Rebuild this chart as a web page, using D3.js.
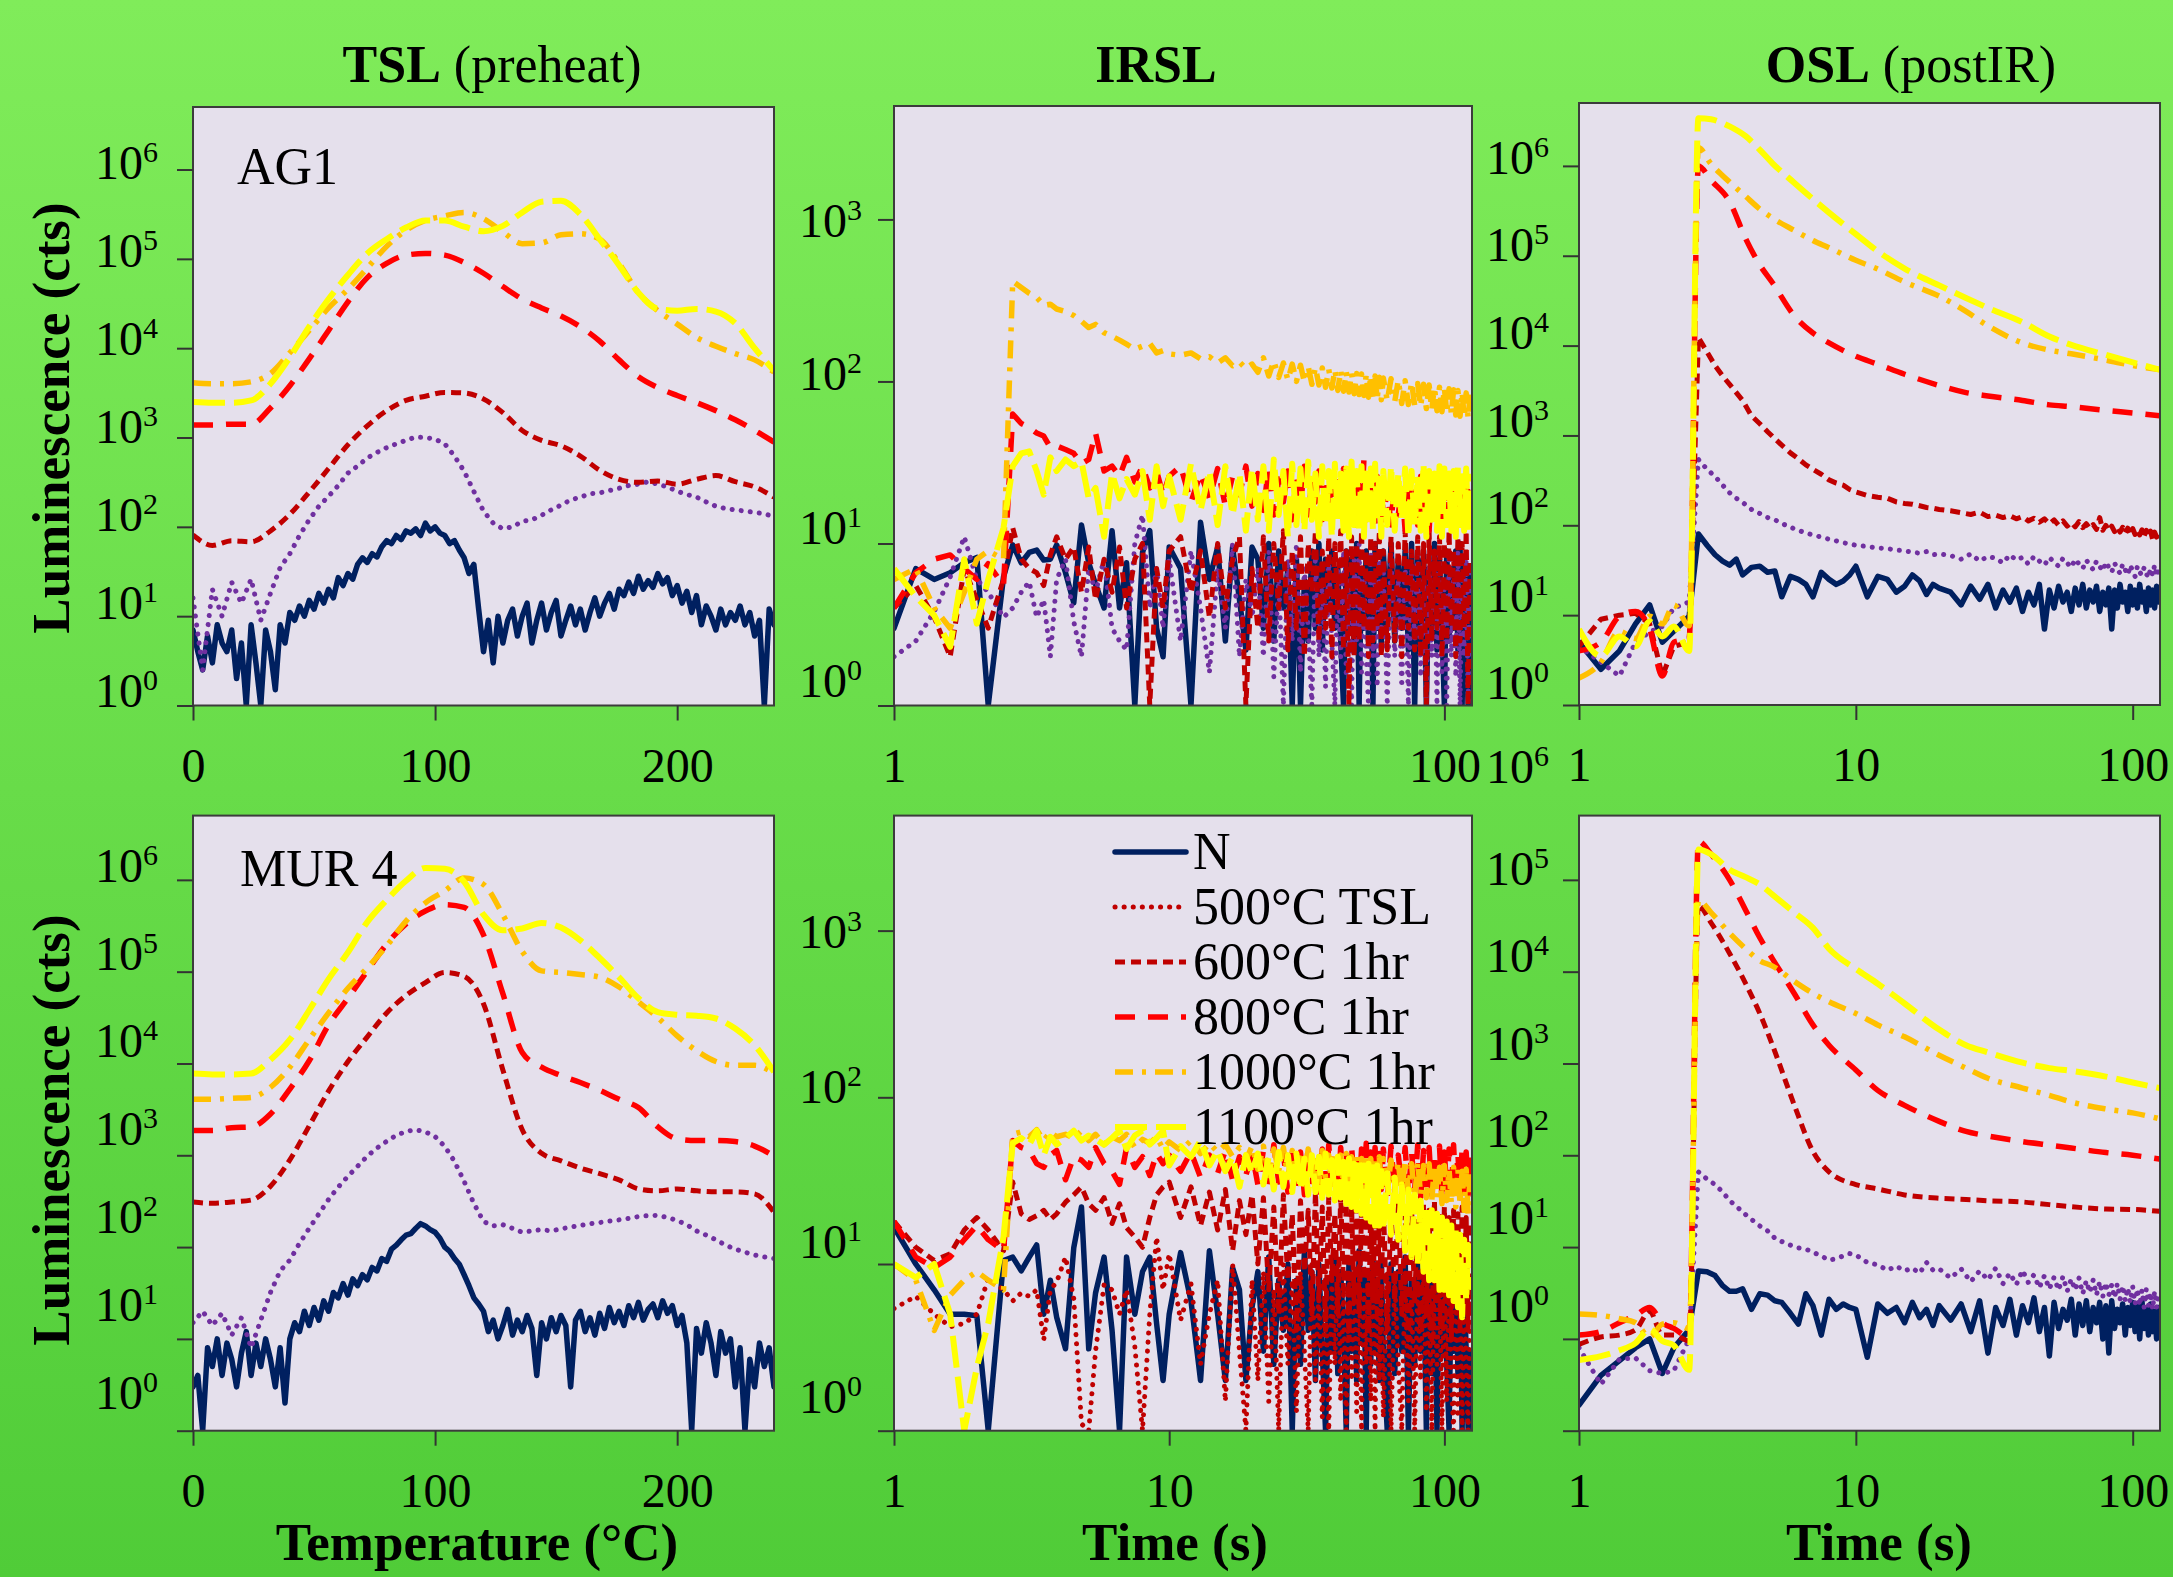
<!DOCTYPE html>
<html><head><meta charset="utf-8">
<script src="https://cdn.jsdelivr.net/npm/d3@7"></script>
<style>
html,body{margin:0;padding:0;background:#6ade4c;}
svg{display:block;}
text{font-family:"Liberation Serif","Times New Roman",serif;fill:#000;}
</style></head><body>
<svg id="fig" width="2173" height="1577"></svg>
<script>
// ---------------- sampling grids ----------------
const tslTempCoarse = [0,8,16,24,32,40,48,56,64,72,80,88,96,104,112,120,128,136,144,152,160,168,176,184,192,200,208,216,224,232,240];
const tslTempMid = [0,4,8,12,16,20,24,28,32,36,40,44,48,52,56,60,64,68,72,76,80,84,88,92,96,100,104,108,112,116,120,124,128,132,136,140,144,148,152,156,160,164,168,172,176,180,184,188,192,196,200,204,208,212,216,220,224,228,232,236,240];
const tslTempFine = [0,2,4,6,8,10,12,14,16,18,20,22,24,26,28,30,32,34,36,38,40,42,44,46,48,50,52,54,56,58,60,62,64,66,68,70,72,74,76,78,80,82,84,86,88,90,92,94,96,98,100,102,104,106,108,110,112,114,116,118,120,122,124,126,128,130,132,134,136,138,140,142,144,146,148,150,152,154,156,158,160,162,164,166,168,170,172,174,176,178,180,182,184,186,188,190,192,194,196,198,200,202,204,206,208,210,212,214,216,218,220,222,224,226,228,230,232,234,236,238,240];
const irslTime = [1,1.2,1.4,1.6,1.8,2,2.2,2.5,2.7,2.9,3.1,3.3,3.5,3.7,3.9,4.2,4.5,4.8,5.1,5.4,5.8,6.2,6.6,7,7.5,8,8.5,9,9.5,10,11,12,13,14,15,16,17,18,19,20,
  21,22,23,24,25,26,27,28,29,30,31,32,33,34,35,36,37,38,39,40,41,42,43,44,45,46,47,48,49,50,51,52,53,54,55,56,57,58,59,60,
  62,64,66,68,70,72,74,76,78,80,82,84,86,88,90,92,94,96,98,100,102,104,106,108,110,112,114,116,118,120,122,124];
const oslTimeFine = [1,1.2,1.4,1.6,1.8,2,2.2,2.5,2.7,2.9,3.1,3.3,3.5,3.7,3.9,4.2,4.5,4.8,5.1,5.4,5.8,6.2,6.6,7,7.5,8,8.5,9,9.5,10,11,12,13,14,15,16,17,18,19,20,22,24,26,28,30,32,34,36,38,40,42,44,46,48,50,52,54,56,58,60,62,64,66,68,70,72,74,76,78,80,82,84,86,88,90,92,94,96,98,100,102,104,106,108,110,112,114,116,118,120,122,124];
const oslTimeCoarse = [1,1.2,1.4,1.6,1.8,2,2.2,2.5,2.7,3,3.5,4,4.5,5,6,7,8,10,12,15,20,25,30,40,50,60,80,100,125];

// ---------------- TSL, AG1 ----------------
const ag1TslN = [7,4,2.5,6,3,8,5,4,7,2, 5,0,8,3,0,7,4,1.5,8,5, 11,9,13,10,15,12,18,14,20,16, 27,22,30,26,38,45,40,50,46,60, 70,65,80,72,90,85,95,80,110,90, 100,85,80,65,70,55,45,30,38,12, 4,9,3,10,5,9,12,6,10,14, 5,9,14,7,11,15,6,9,13,8, 12,7,11,16,10,14,18,12,20,17, 24,18,28,20,25,21,30,23,27,17, 22,14,19,11,17,8,13,10,7,12, 8,11,9,13,8,11,6,9,0,12, 8];
const ag1Tsl500 = [16,2.5,20,10,24,14,26,9,18,35, 50,80,120,170,220,290,400,480,590,680, 770,850,930,1010,1000,960,850,620,420,250, 150,110,95,100,115,120,135,155,175,200, 215,235,240,255,270,290,300,320,300,280, 250,230,215,190,170,160,155,150,145,140, 130];
const ag1Tsl600 = [81,62,70,68,90,138,245,450,830,1350,2000,2600,2900,3200,3150,2700,1900,1200,930,810,620,430,340,315,325,300,340,375,320,280,215];
const ag1Tsl800 = [1380,1380,1410,1410,2140,3800,7600,15800,33100,61700,89000,110000,115000,110000,91000,69000,49000,35500,28200,22900,17400,12000,7400,4800,3630,2950,2450,2000,1580,1200,890];
const ag1Tsl1000 = [4100,4000,4000,4200,5200,8900,15800,28200,45700,79000,138000,209000,269000,302000,331000,282000,200000,148000,151000,186000,191000,166000,89000,41700,26300,18600,13200,10500,8700,7400,5400];
const ag1Tsl1100 = [2500,2450,2450,2600,4000,7900,17400,35500,66000,115000,166000,224000,269000,269000,229000,204000,234000,331000,437000,447000,316000,166000,85000,41700,27500,26300,27500,25700,19000,10000,5600];

// ---------------- TSL, MUR 4 ----------------
const mur4TslN = [3,4,0,8,5,10,4,9,6,3, 7,12,4,9,5,10,6,3,8,2, 10,15,12,20,14,22,16,26,20,32, 28,40,30,45,38,50,44,60,55,75, 70,95,105,120,135,140,160,180,170,155, 145,125,100,90,75,65,50,38,28,24, 20,12,16,10,14,21,11,16,12,18, 13,4,15,10,17,12,18,14,3,16, 20,12,17,11,19,13,22,15,20,14, 23,17,25,16,21,24,17,26,19,23, 14,18,9,0,13,7,15,9,4,12, 7,10,3,8,0,6,3,9,5,8, 3];
const mur4Tsl500 = [15,20,14,19,11,17,8,16,32,55, 72,110,160,230,330,450,590,760,980,1200, 1420,1650,1820,1900,1800,1600,1250,860,520,300, 190,170,175,160,145,150,155,150,158,165, 172,180,185,192,198,205,215,220,222,210, 195,175,150,135,120,105,95,88,82,78, 75];
const mur4Tsl600 = [310,300,310,325,460,890,2090,5000,10500,19500,35500,55000,76000,98000,89000,44700,8500,1900,1050,870,725,630,540,430,410,430,410,400,400,380,240];
const mur4Tsl800 = [1860,1860,2000,2040,2820,5250,10700,26300,51300,102000,200000,331000,457000,537000,501000,251000,57500,13200,9100,7400,6200,5100,4070,3310,2040,1510,1450,1450,1410,1260,980];
const mur4Tsl1000 = [4070,4070,4170,4270,5500,9100,18200,35500,66000,110000,191000,355000,562000,759000,1050000,891000,417000,166000,102000,98000,93000,87000,68000,46800,31600,20000,13800,10500,9550,9550,7760];
const mur4Tsl1100 = [7760,7600,7600,7760,11000,18200,38000,83000,162000,347000,603000,977000,1350000,1320000,955000,417000,282000,295000,339000,302000,219000,141000,87000,51300,36300,33900,33100,30900,24000,15800,8100];

// ---------------- IRSL, AG1 ----------------
const ag1IrslN = [3,7,6,6.6,7.6,8.2,0,6.2,
  9.8,7.6,8.8,9.1,7.9,8,9.8,6.6,4.3,13,7.6,5.6,4,12,4,7.6,0,8.8,12,3,2,9.5,
  7,0,13.5,6,9.5,2.5,9.5,4.5,2.2,9.5,
  8,3,10,2.5,9,4,7,0,8,0, 6,2.5,9,3,10,2.2,8,4,9,3, 7,2.5,0,9,3,8,2.2,10,0,7, 3,9,2.5,8,0,10,3,7,2.2,9,
  3,10,2.5,8,3,9,2.2,10,0,8, 2.5,9,0,7,3,10,2.2,8,3,0, 9,2.5,7,3,9,2.2,10,0,8,3, 0,7];
const ag1Irsl500 = [2,2.5,3.8,6.2,11,6,5,3.5,
  4,5,5.8,3.5,4.5,2,6,8,3.3,2,7,5,8,3,2.5,2.2,10,15,4,7,3,8,
  2.5,9,4,1.6,7,3,10,2,6,3.5,
  7,2,9,1.5,6,0,8,2.5,10,1.6, 7,3,0,9,2,6,1.3,8,2.5,0, 7,2,9,1.5,6,0,8,2.5,10,1.6, 7,2,0,9,2,6,1.3,8,2.5,7,
  0,9,2,6,1.3,8,0,7,2.5,9, 1.5,6,0,8,2,7,0,9,1.6,6, 0,8,2,7,1.5,9,0,6,2,8, 0,7];
const ag1Irsl600 = [4,5.5,3.5,2,7,4.5,3,6,
  12.5,8,7,6.6,5.5,8.5,11,8,9.5,5,9.5,4.5,8,5,9.5,4,8,10,0,7,4,9,
  11,5,9,3.5,10,4,8,11,0,7,
  3,11,2.5,10,4,12,2.2,9,3,11, 2,10,5,12,2.5,9,3,11,2,10, 4,12,2.2,9,0,11,2,10,2.5,12, 3,9,2,11,2.5,10,3,12,2,9,
  2.2,11,2.5,10,2,12,3,9,2.2,11, 2,10,0,12,2.5,9,3,11,2,10, 2.5,12,3,9,2,11,2.5,10,3,12, 0,8];
const ag1Irsl800 = [4,6.6,8,8.5,7,6,7.5,5.5,
  63,55,52,48,46,39,40,38,36,31,33,48,28,30,26,34,24,30,22,28,20,26,
  30,18,27,19,29,17,26,20,30,17,
  27,16,30,15,25,18,28,14,26,17, 30,15,24,18,28,14,25,16,27,15, 24,17,29,14,26,16,24,13,27,15, 33,14,25,16,23,13,26,15,24,14,
  22,13,25,15,23,12,24,14,22,13, 26,14,23,12,25,15,22,13,24,12, 23,14,21,13,24,12,22,14,23,13, 21,14];
const ag1Irsl1000 = [6,7,4,3,5,8,9,8,
  415,380,350,330,295,300,280,270,255,235,215,225,200,190,180,170,158,165,172,150,155,148,
  145,150,138,142,130,140,125,132,120,128,
  114,140,108,134,106,130,102,128,100,126, 99,124,96,122,95,121,92,119,91,118, 88,117,87,115,86,113,84,112,83,111, 82,110,80,109,79,108,78,106,77,105,
  76,104,75,102,73,101,72,99,71,97, 70,96,68,95,67,93,66,92,65,91, 64,90,63,89,62,88,61,86,60,85, 59,83];
const ag1Irsl1100 = [7,4.7,3.6,2.3,8,3.2,6,12.5,
  30,36,37,28,20,34,28,33,30,32,19,22,11,27,19,25,20,28,14,30,17,26,
  14,31,16,28,13,30,15,27,12,29,
  14,30,12,33,15,28,11,31,13,29, 12,32,14,27,11,30,13,28,11,31, 14,27,12,29,11,32,13,28,12,30, 11,27,13,29,12,31,14,27,11,28,
  13,30,12,27,14,29,11,28,13,26, 12,31,11,28,14,27,12,30,11,29, 13,27,12,28,11,30,13,26,12,29, 12,27];

// ---------------- IRSL, MUR 4 ----------------
const mur4IrslN = [16.6,10,7,5,5,4.9,0,10.5,
  11,9.1,11,13,5,8,4.8,3.1,12.5,22,3.1,6.7,11,4,0,11,5,9,11,4.4,2,5,
  11.7,6,2,12,5,2,9.5,7,2,5.5,
  9,3,11,2.5,8,4,10,0,8,2.5, 12,4,9,2,10,3,0,8,3,11, 2.2,9,4,0,10,3,8,2,12,3.5, 9,0,9,2.5,11,3,8,2,10,3,
  0,10,2.2,9,3,11,0,8,2.5,10, 3,9,0,11,2.2,8,0,9,3,10, 2.5,0,8,3,11,2.2,9,0,8,3, 0,3];
const mur4Irsl500 = [5.4,6.4,5,4.2,4.4,5,8.2,7,
  6,6.7,6.4,7,3.5,7,7.8,11,6.2,1.1,0,3,7.5,7,5,7,3.2,0,5,14.5,7,11.5,
  4.6,7.6,2.5,5,8,1.5,10,3,0,8,
  2,9,1.5,7,0,10,2.5,8,1.3,9, 3,0,10,2,7,1.2,9,0,8,2.5, 10,1.5,7,0,9,2,8,1.3,10,0, 7,2.5,9,1.5,8,0,10,2,7,1.2,
  9,0,8,2.5,0,9,1.5,7,0,8, 2,10,1.3,7,0,9,2.5,8,0,10, 1.5,7,2,0,9,1.2,8,0,7,2.5, 0,6];
const mur4Irsl600 = [18,12.6,10.5,11.5,16,19,16,12,
  31,20,18.5,19.5,21,18.5,20,23.5,26,29,23,21,25,17.5,23,16.5,14.5,12.6,19,26,29,31,
  19,29,17,27,16,28,12,24,15,26,
  10,25,7,22,5,26,8,20,4,24, 9,21,5,27,6,22,4,25,8,20, 5,26,7,23,3.5,22,6,27,5,21, 8,24,4,22,6,25,5,20,7,23,
  4,21,6,24,5,20,3.5,22,6,19, 4,23,5,21,3.5,24,6,20,4,22, 5,19,3.5,21,6,20,4,22,5,19, 4,18];
const mur4Irsl800 = [18,11,9.5,11,14,17,14,12,
  55,50,48,40,38,45,48,32,44,42,38,50,40,36,30,50,38,44,34,46,40,45,
  36,47,33,45,35,48,32,44,34,46,
  30,48,28,52,31,46,27,50,29,47, 26,51,30,45,27,49,25,52,29,46, 26,50,28,48,25,51,30,45,26,49, 28,53,25,47,29,50,26,46,28,49,
  25,51,27,45,29,50,26,47,28,52, 25,48,27,50,26,46,29,51,25,47, 28,49,26,52,27,46,25,50,28,47, 26,48];
const mur4Irsl1000 = [10,8,4,6.5,8,9,8,7,
  60,62,58,64,55,62,58,60,57,63,55,60,52,58,55,60,50,56,53,58,49,54,
  48,55,46,53,47,52,44,50,42,51,
  37,51,34,49,36,50,33,48,35,47, 32,49,34,46,31,48,33,45,30,47, 32,45,30,46,31,44,29,45,30,43, 29,44,28,43,29,42,28,44,27,43,
  28,42,27,41,26,42,27,40,25,41, 26,39,25,40,24,39,25,38,23,39, 24,37,23,38,22,37,23,36,21,37, 20,35];
const mur4Irsl1100 = [10,8.3,10,5,0,2.4,4.4,14.5,
  53,57,52,63,45,58,52,57,63,55,59,56,52,57,63,49,59,63,52,57,63,39,
  51,44,55,39,48,36,44,29,45,35,
  46,30,44,28,47,29,45,27,46,28, 43,26,45,27,44,25,46,26,42,24, 44,25,41,23,43,22,40,21,42,20, 39,19,40,18,38,17,39,17,36,16,
  35,15,33,14,30,12,28,11,26,10, 24,9,22,8,21,8,20,7,19,7, 18,6.5,17,6,16,5.5,15,4.8,14,6, 13,7];

// ---------------- OSL (post IR), AG1 ----------------
const ag1OslN = [5,2.5,4,8,13,5,6.6,9.7,
  80,60,47,40,36,42,28,34,35,30,31,16,27,25,22,16,30,25,22,24,28,35,
  16,27,25,18,21,28,24,17,22,20,
  18,13,21,15,22,12,19,14,20,11, 18,13,22,7,19,12,21,14,18,11, 20,13,22,12,19,14,21,11,18,13, 20,7,19,12,22,14,18,11,21,13, 19,12,22,14,18,11,20,13,19,12, 21,14];
const ag1Osl500 = [4.5,3,2.1,5,6.5,7.5,12,14,
  540,420,350,280,230,200,180,150,135,122,115,105,95,88,82,78,74,70,67,64,62,60,
  58,56,55,53,52,50,49,51,47,48,
  46,42,48,40,45,43,38,47,41,44, 37,45,40,36,44,39,35,43,38,34, 42,37,33,41,36,32,40,35,31,39, 34,30,38,33,29,37,32,28,36,31, 27,35,30,28,34,29,26,33,28,36, 27,32];
const ag1Osl600 = [4.5,9,10,10.5,8,2.1,4.5,5,
  12300,8500,6000,4600,3700,3000,2450,1650,1350,1100,920,780,640,550,470,420,370,320,295,280,250,235,
  215,205,200,182,175,172,165,158,155,150,
  145,138,132,140,125,130,122,128,118,125, 112,120,108,118,104,115,100,112,98,108, 96,110,94,104,92,102,90,122,88,100, 87,98,85,96,84,95,82,93,80,92, 79,90,78,89,76,88,75,86,70,84, 74,80];
const ag1Osl800 = [4,5,9.7,11,7,2.1,5,5.5,1000000,690000,400000,155000,79000,50000,21400,13800,10700,7600,6200,4800,3600,3000,2750,2450,2190,2090,1900,1780,1660];
const ag1Osl1000 = [2,3,6.6,5.5,9.7,8,13,7.6,1590000,1050000,660000,457000,331000,263000,191000,148000,123000,89000,71000,51000,35500,24000,16600,10700,8900,8100,6900,6000,5400];
const ag1Osl1100 = [7,3.5,5.8,4.5,8.5,5.8,7.5,4,3400000,3300000,2750000,2140000,1510000,1070000,646000,427000,302000,174000,112000,72000,46800,33900,26300,18200,12600,10200,7900,6500,5400];

// ---------------- OSL (post IR), MUR 4 ----------------
const mur4OslN = [0.19,0.4,0.58,0.8,1.0,0.42,0.8,1.26,
  5.5,5.4,4.9,3.8,3.3,3.3,3.5,2.1,3.1,3.0,2.6,2.5,1.9,1.45,3.1,2.3,1.1,2.7,2.1,2.4,2.2,2.1,
  0.63,2.4,1.9,2.2,1.5,2.5,1.7,2.1,1.4,2.3,
  1.6,2.4,1.2,2.6,0.7,2.2,1.4,2.7,1.1,2.3, 1.5,2.8,1.2,2.2,0.65,2.5,1.3,2.1,1.6,2.7, 1.1,2.4,1.4,2.6,1.2,2.2,1.5,2.5,1.0,2.3, 0.7,2.6,1.3,2.1,1.5,2.4,1.1,2.2,1.4,2.5, 1.2,2.3,1.0,2.6,1.3,2.2,1.1,2.4,1.2,2.0, 1.0,2.2];
const mur4Osl500 = [0.8,0.32,0.6,0.62,0.45,0.42,0.45,1.0,
  66,55,48,40,32,28,24,20,17,15,12.5,11.5,10.5,9.8,9.5,8.8,8,7.2,7.5,8,8.5,8.2,
  6.8,6.4,5.6,6.2,5.5,5.9,5.2,6.8,5.6,5.8,
  4.6,5.8,4.2,5.5,4.4,5.9,4.0,5.2,3.9,5.6, 4.1,5.0,3.6,4.9,3.5,4.7,3.4,4.8,3.3,4.5, 3.4,4.6,3.1,4.3,3.2,4.4,3.0,4.2,2.9,4.1, 3.0,3.9,2.8,4.0,2.7,3.8,2.6,3.6,2.5,3.7, 2.4,3.5,2.3,3.4,2.2,3.5,2.3,3.2,2.1,3.3, 2.2,3.0];
const mur4Osl600 = [0.87,1.05,1.1,1.25,2.0,1.1,1.1,0.95,52000,34000,15800,7400,3500,1580,350,110,66,48,43,37,34,33,32,31,29,27.5,26,25.7,24.5];
const mur4Osl800 = [1.1,1.2,1.5,1.8,2.2,1.5,1.3,1.05,263000,190000,100000,46800,23400,13800,5750,2630,1580,850,510,350,234,182,162,141,129,120,107,100,91];
const mur4Osl1000 = [1.87,1.8,1.66,1.5,1.05,1.45,1.5,1.3,60000,44000,26300,17800,13200,11500,7800,5800,4700,3500,2630,1950,1230,890,690,540,450,380,320,290,250];
const mur4Osl1100 = [0.59,0.65,0.75,0.9,1.28,0.95,0.85,0.46,214000,190000,129000,107000,89000,69000,44000,30000,17800,10700,7400,4500,2340,1580,1320,1020,890,830,720,620,540];

// ---------------- labels ----------------
const legendKeys = ['N','s500','s600','s800','s1000','s1100'];
const legendLabels = ['N','500°C TSL','600°C 1hr','800°C 1hr','1000°C 1hr','1100°C 1hr'];
const columnTitles = [['TSL',' (preheat)'],['IRSL',''],['OSL',' (postIR)']];
const sampleNames = ['AG1','MUR 4'];

// ---------------- styles ----------------
const seriesStyle = {
  N:     {color:'#002060', width:5.5, dash:null,        cap:'round'},
  s500:  {color:'#7030a0', width:5,   dash:'0.1,9',     cap:'round'},
  s600:  {color:'#c00000', width:5,   dash:'10,6',      cap:'butt'},
  s800:  {color:'#ff0000', width:5.5, dash:'20,13',     cap:'butt'},
  s1000: {color:'#ffc000', width:5.5, dash:'18,9,4,9',  cap:'butt'},
  s1100: {color:'#ffff00', width:6,   dash:'32,9',      cap:'butt'}
};

const W = 2173, H = 1577;
const svg = d3.select('#fig');
const defs = svg.append('defs');
const grad = defs.append('linearGradient').attr('id','bg').attr('x1',0).attr('y1',0).attr('x2',0).attr('y2',1);
grad.append('stop').attr('offset','0%').attr('stop-color','#80ec5a');
grad.append('stop').attr('offset','100%').attr('stop-color','#50cc38');
svg.append('rect').attr('width',W).attr('height',H).attr('fill','url(#bg)');

function S(key, x, y, smooth, color){ return {key, x, y, smooth:!!smooth, color}; }

const panels = [
  {id:'tl', x0:193, x1:774, y0:107, y1:705.5, xLog:false, xDomain:[0,240], xTicks:[0,100,200],
   yDomain:[1, Math.pow(10,6.7)], yTicks:[1,10,1e2,1e3,1e4,1e5,1e6], yTop:1e6, lab:[9.4,-1.4], yPad:19,
   series:[S('N',tslTempFine,ag1TslN),S('s500',tslTempMid,ag1Tsl500),S('s600',tslTempCoarse,ag1Tsl600,1),
           S('s800',tslTempCoarse,ag1Tsl800,1),S('s1000',tslTempCoarse,ag1Tsl1000,1),S('s1100',tslTempCoarse,ag1Tsl1100,1)]},
  {id:'tm', x0:894, x1:1472, y0:106, y1:705.5, xLog:true, xDomain:[1,126], xTicks:[1,100],
   yDomain:[1, Math.pow(10,3.7)], yTicks:[1,10,1e2,1e3], yTop:1e3, lab:[17,-8.7], yPad:16,
   series:[S('N',irslTime,ag1IrslN),S('s500',irslTime,ag1Irsl500),S('s600',irslTime,ag1Irsl600),
           S('s800',irslTime,ag1Irsl800),S('s1000',irslTime,ag1Irsl1000),S('s1100',irslTime,ag1Irsl1100)]},
  {id:'tr', x0:1579, x1:2160, y0:103, y1:705, xLog:true, xDomain:[1,125.5], xTicks:[1,10,100],
   yDomain:[1, Math.pow(10,6.7)], yTicks:[1,10,1e2,1e3,1e4,1e5,1e6], yTop:1e6, lab:[7.5,-2.3], yPad:14,
   series:[S('N',oslTimeFine,ag1OslN),S('s500',oslTimeFine,ag1Osl500),S('s600',oslTimeFine,ag1Osl600),
           S('s800',oslTimeCoarse,ag1Osl800,1),S('s1000',oslTimeCoarse,ag1Osl1000,1),S('s1100',oslTimeCoarse,ag1Osl1100,1)]},
  {id:'bl', x0:193, x1:774, y0:815.6, y1:1430.7, xLog:false, xDomain:[0,240], xTicks:[0,100,200],
   yDomain:[1, Math.pow(10,6.7)], yTicks:[1,10,1e2,1e3,1e4,1e5,1e6], yTop:1e6, lab:[1.5,-4.0], yPad:19,
   series:[S('N',tslTempFine,mur4TslN),S('s500',tslTempMid,mur4Tsl500),S('s600',tslTempCoarse,mur4Tsl600,1),
           S('s800',tslTempCoarse,mur4Tsl800,1),S('s1000',tslTempCoarse,mur4Tsl1000,1),S('s1100',tslTempCoarse,mur4Tsl1100,1)]},
  {id:'bm', x0:894, x1:1472, y0:815.6, y1:1430.7, xLog:true, xDomain:[1,126], xTicks:[1,10,100],
   yDomain:[1, Math.pow(10,3.69)], yTicks:[1,10,1e2,1e3], yTop:1e3, lab:[17,-11.6], yPad:16,
   series:[S('N',irslTime,mur4IrslN),S('s500',irslTime,mur4Irsl500,0,'#c00000'),S('s600',irslTime,mur4Irsl600),
           S('s800',irslTime,mur4Irsl800),S('s1000',irslTime,mur4Irsl1000),S('s1100',irslTime,mur4Irsl1100)]},
  {id:'br', x0:1579, x1:2160, y0:815.6, y1:1430.7, xLog:true, xDomain:[1,125.5], xTicks:[1,10,100],
   yDomain:[0.1, Math.pow(10,5.7)], yTicks:[0.1,1,10,1e2,1e3,1e4,1e5,1e6], yTop:1e5, lab:[4.4,-4.4], yPad:14, outsideDy:-6,
   series:[S('N',oslTimeFine,mur4OslN),S('s500',oslTimeFine,mur4Osl500),S('s600',oslTimeCoarse,mur4Osl600,1),
           S('s800',oslTimeCoarse,mur4Osl800,1),S('s1000',oslTimeCoarse,mur4Osl1000,1),S('s1100',oslTimeCoarse,mur4Osl1100,1)]}
];

function drawPanel(p){
  const g = svg.append('g');
  const w = p.x1 - p.x0, h = p.y1 - p.y0;
  g.append('rect').attr('x',p.x0).attr('y',p.y0).attr('width',w).attr('height',h).attr('fill','#e5e0ec');
  const xs = (p.xLog ? d3.scaleLog() : d3.scaleLinear()).domain(p.xDomain).range([p.x0,p.x1]);
  const ys = d3.scaleLog().domain(p.yDomain).range([p.y1,p.y0]);
  const lo = p.yDomain[0];
  const cid = 'clip-' + p.id;
  defs.append('clipPath').attr('id',cid).append('rect')
    .attr('x',p.x0).attr('y',p.y0).attr('width',w).attr('height',h);
  const lg = g.append('g').attr('clip-path',`url(#${cid})`);
  p.series.forEach(s => {
    const st = seriesStyle[s.key];
    const pts = s.x.map((t,i) => [t, s.y[i]]);
    const line = d3.line()
      .defined(d => d[1] != null && !isNaN(d[1]))
      .x(d => xs(d[0]))
      .y(d => ys(Math.max(d[1], lo)))
      .curve(s.smooth ? d3.curveMonotoneX : d3.curveLinear);
    lg.append('path').attr('d', line(pts)).attr('fill','none')
      .attr('stroke', s.color || st.color).attr('stroke-width', st.width)
      .attr('stroke-dasharray', st.dash).attr('stroke-linecap', st.cap)
      .attr('stroke-linejoin','round');
  });
  g.append('rect').attr('x',p.x0).attr('y',p.y0).attr('width',w).attr('height',h)
    .attr('fill','none').attr('stroke','#3c3c3c').attr('stroke-width',2);

  // value axis with power-of-ten labels
  const ya = g.append('g').attr('transform',`translate(${p.x0},0)`)
    .call(d3.axisLeft(ys).tickValues(p.yTicks).tickSize(16).tickPadding(p.yPad).tickFormat(() => ''));
  ya.select('.domain').remove();
  ya.attr('font-family',null).attr('font-size',null);
  ya.selectAll('.tick line').attr('stroke','#333').attr('stroke-width',2);
  ya.selectAll('.tick').each(function(v){
    const tk = d3.select(this);
    const outside = v > p.yDomain[1] * 1.001;
    if (outside) tk.select('line').remove();
    const e = Math.round(Math.log10(v));
    const txt = tk.select('text');
    if (v < 1 && v === p.yDomain[0]) { txt.remove(); return; }
    const k = Math.round(Math.log10(p.yTop)) - e;
    const off = outside ? p.outsideDy : p.lab[0] + p.lab[1]*k;
    txt.attr('dy', 0).attr('y', off).attr('font-size', 48).attr('fill','#000');
    txt.append('tspan').text('10');
    txt.append('tspan').attr('font-size', 30).attr('dy', -17).text(e);
  });

  // horizontal axis
  const xa = g.append('g').attr('transform',`translate(0,${p.y1})`)
    .call(d3.axisBottom(xs).tickValues(p.xTicks).tickSize(15).tickPadding(27).tickFormat(d => String(d)));
  xa.select('.domain').remove();
  xa.attr('font-family',null).attr('font-size',null);
  xa.selectAll('.tick line').attr('stroke','#333').attr('stroke-width',2);
  xa.selectAll('.tick text').attr('font-size',48).attr('fill','#000');
}

panels.forEach(drawPanel);

// column titles
const titleX = [492, 1156, 1911];
columnTitles.forEach((t,i) => {
  const tx = svg.append('text').attr('x',titleX[i]).attr('y',82).attr('text-anchor','middle').attr('font-size',52);
  tx.append('tspan').attr('font-weight','bold').text(t[0]);
  if (t[1]) tx.append('tspan').text(t[1]);
});

// sample names
svg.append('text').attr('x',237).attr('y',184).attr('font-size',52).text(sampleNames[0]);
svg.append('text').attr('x',240).attr('y',886).attr('font-size',52).text(sampleNames[1]);

// y titles
[418, 1130].forEach(cy => {
  svg.append('text').attr('transform',`translate(69,${cy}) rotate(-90)`).attr('text-anchor','middle')
    .attr('font-size',53).attr('font-weight','bold').text('Luminescence (cts)');
});

// x titles
svg.append('text').attr('x',477).attr('y',1560).attr('text-anchor','middle').attr('font-size',53).attr('font-weight','bold').text('Temperature (°C)');
svg.append('text').attr('x',1175).attr('y',1560).attr('text-anchor','middle').attr('font-size',53).attr('font-weight','bold').text('Time (s)');
svg.append('text').attr('x',1879).attr('y',1560).attr('text-anchor','middle').attr('font-size',53).attr('font-weight','bold').text('Time (s)');

// legend (IRSL, MUR 4 panel)
const legend = svg.append('g');
legendKeys.forEach((k,i) => {
  const st = seriesStyle[k];
  const y = 852 + i*55;
  const col = k === 's500' ? '#c00000' : st.color;
  legend.append('line').attr('x1',1115).attr('x2',1186).attr('y1',y).attr('y2',y)
    .attr('stroke',col).attr('stroke-width',st.width).attr('stroke-dasharray',st.dash)
    .attr('stroke-linecap',st.cap);
  legend.append('text').attr('x',1193).attr('y',y+17).attr('font-size',52).text(legendLabels[i]);
});
</script>
</body></html>
